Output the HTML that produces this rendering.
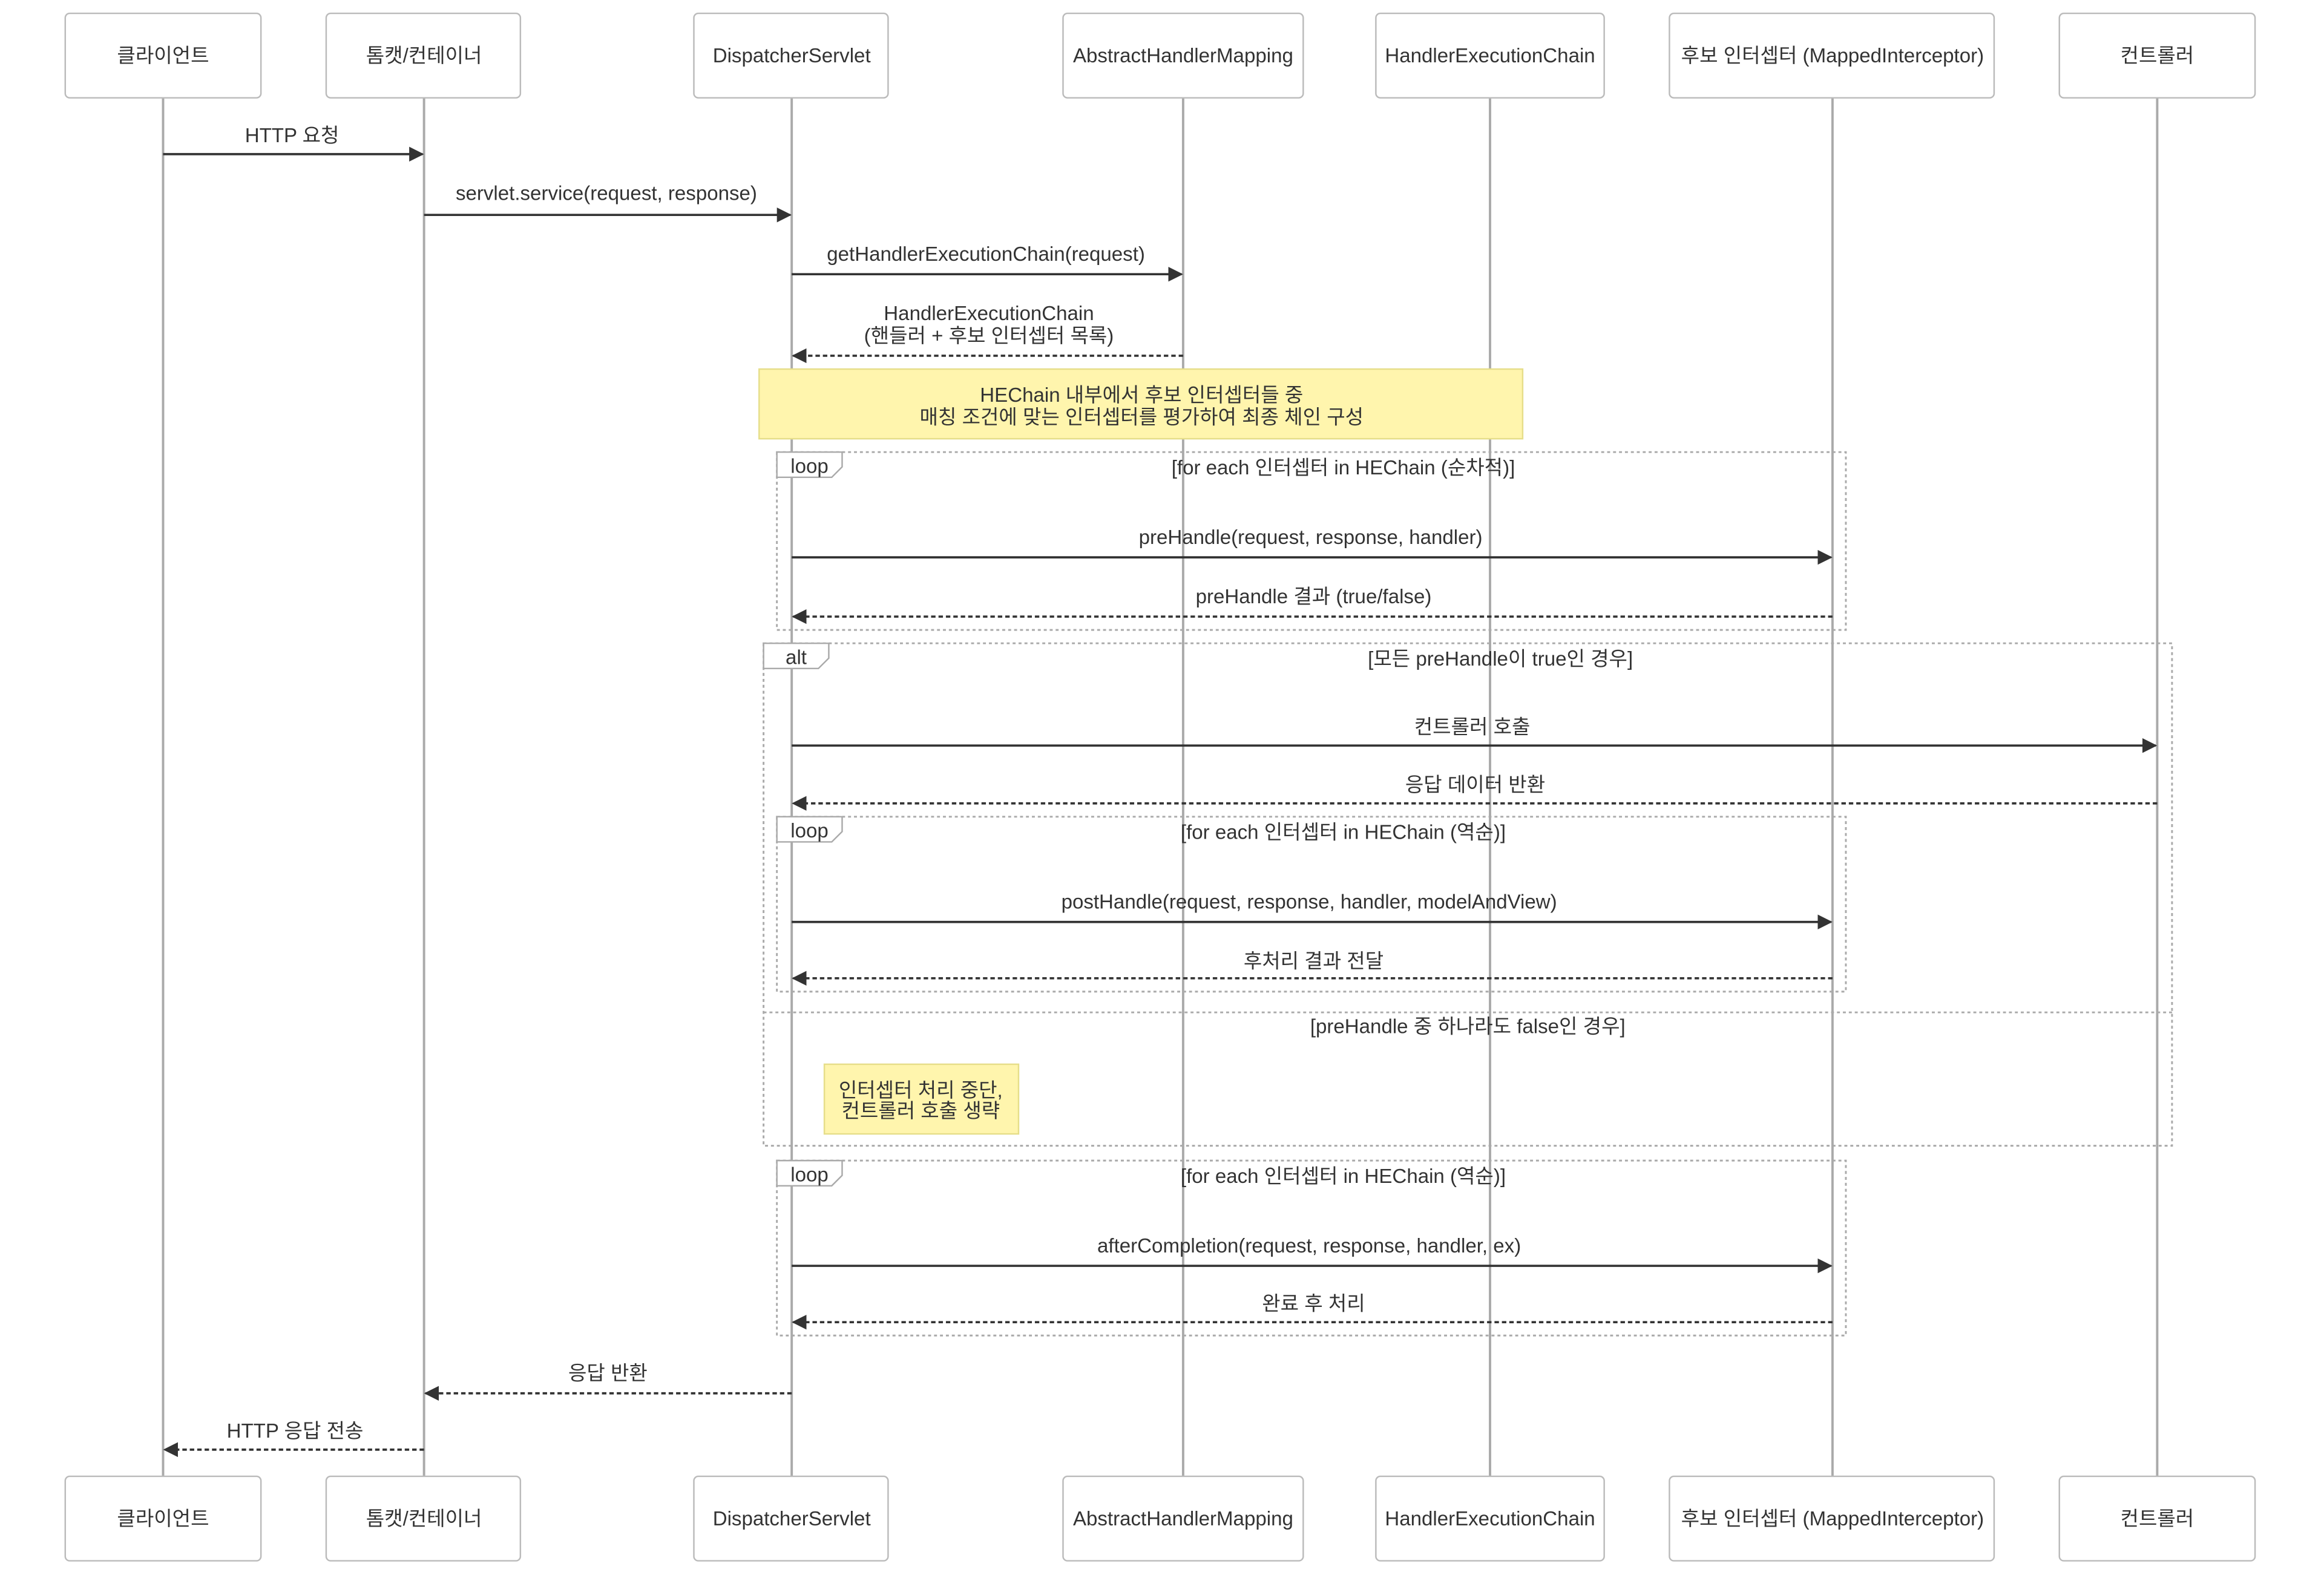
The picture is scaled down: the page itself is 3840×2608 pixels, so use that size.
<!DOCTYPE html>
<html><head><meta charset="utf-8"><style>
html,body{margin:0;padding:0;background:#fff;}
svg{display:block;}
text{font-family:"Liberation Sans","Noto Sans CJK KR",sans-serif;font-size:13.5px;fill:#333;text-anchor:middle;}
.box{fill:#fff;stroke:#bbb;stroke-width:1;}
.life{stroke:#aaa;stroke-width:1.6;}
.msg{stroke:#333;stroke-width:1.5;fill:none;}
.dash{stroke:#333;stroke-width:1.5;stroke-dasharray:3,2;fill:none;}
.frame{fill:none;stroke:#aaa;stroke-width:1.2;stroke-dasharray:2,2;}
.tab{fill:#fff;stroke:#aaa;stroke-width:1;}
.note{fill:#fff5ad;stroke:#e6de8a;stroke-width:1;}
</style></head><body>
<svg width="3840" height="2608" viewBox="0 0 1567.5 1064.6" preserveAspectRatio="none" xmlns="http://www.w3.org/2000/svg">
<defs>
<marker id="ah" markerWidth="10" markerHeight="10" refX="9" refY="5" orient="auto" markerUnits="userSpaceOnUse"><path d="M0,0 L10,5 L0,10 z" fill="#333"/></marker>
</defs>
<line class="life" x1="110" y1="66" x2="110" y2="996"/>
<line class="life" x1="286" y1="66" x2="286" y2="996"/>
<line class="life" x1="534" y1="66" x2="534" y2="996"/>
<line class="life" x1="798" y1="66" x2="798" y2="996"/>
<line class="life" x1="1005" y1="66" x2="1005" y2="996"/>
<line class="life" x1="1236" y1="66" x2="1236" y2="996"/>
<line class="life" x1="1455" y1="66" x2="1455" y2="996"/>

<g>
<rect class="box" x="44" y="9" width="132" height="57" rx="3"/><text x="110" y="42">클라이언트</text>
<rect class="box" x="220" y="9" width="131" height="57" rx="3"/><text x="286" y="42">톰캣/컨테이너</text>
<rect class="box" x="468" y="9" width="131" height="57" rx="3"/><text x="534" y="42">DispatcherServlet</text>
<rect class="box" x="717" y="9" width="162" height="57" rx="3"/><text x="798" y="42">AbstractHandlerMapping</text>
<rect class="box" x="928" y="9" width="154" height="57" rx="3"/><text x="1005" y="42">HandlerExecutionChain</text>
<rect class="box" x="1126" y="9" width="219" height="57" rx="3"/><text x="1236" y="42">후보 인터셉터 (MappedInterceptor)</text>
<rect class="box" x="1389" y="9" width="132" height="57" rx="3"/><text x="1455" y="42">컨트롤러</text>
</g>
<g>
<rect class="box" x="44" y="996" width="132" height="57" rx="3"/><text x="110" y="1029">클라이언트</text>
<rect class="box" x="220" y="996" width="131" height="57" rx="3"/><text x="286" y="1029">톰캣/컨테이너</text>
<rect class="box" x="468" y="996" width="131" height="57" rx="3"/><text x="534" y="1029">DispatcherServlet</text>
<rect class="box" x="717" y="996" width="162" height="57" rx="3"/><text x="798" y="1029">AbstractHandlerMapping</text>
<rect class="box" x="928" y="996" width="154" height="57" rx="3"/><text x="1005" y="1029">HandlerExecutionChain</text>
<rect class="box" x="1126" y="996" width="219" height="57" rx="3"/><text x="1236" y="1029">후보 인터셉터 (MappedInterceptor)</text>
<rect class="box" x="1389" y="996" width="132" height="57" rx="3"/><text x="1455" y="1029">컨트롤러</text>
</g>

<text x="197" y="96">HTTP 요청</text>
<line class="msg" x1="110" y1="104" x2="285" y2="104" marker-end="url(#ah)"/>
<text x="409" y="135">servlet.service(request, response)</text>
<line class="msg" x1="286" y1="145" x2="533" y2="145" marker-end="url(#ah)"/>
<text x="665" y="176">getHandlerExecutionChain(request)</text>
<line class="msg" x1="534" y1="185" x2="797" y2="185" marker-end="url(#ah)"/>
<text x="667" y="216">HandlerExecutionChain</text>
<text x="667" y="231">(핸들러 + 후보 인터셉터 목록)</text>
<line class="dash" x1="798" y1="240" x2="535" y2="240" marker-end="url(#ah)"/>

<rect class="note" x="512" y="249" width="515" height="47"/>
<text x="770" y="271">HEChain 내부에서 후보 인터셉터들 중</text>
<text x="770" y="286">매칭 조건에 맞는 인터셉터를 평가하여 최종 체인 구성</text>

<rect class="frame" x="524" y="305" width="721" height="120"/>
<path class="tab" d="M524,305 H568 V315 L561,322 H524 Z"/>
<text x="546" y="319">loop</text>
<text x="906" y="320">[for each 인터셉터 in HEChain (순차적)]</text>
<text x="884" y="367">preHandle(request, response, handler)</text>
<line class="msg" x1="534" y1="376" x2="1235" y2="376" marker-end="url(#ah)"/>
<text x="886" y="407">preHandle 결과 (true/false)</text>
<line class="dash" x1="1236" y1="416" x2="535" y2="416" marker-end="url(#ah)"/>

<rect class="frame" x="515" y="434" width="950" height="339"/>
<path class="tab" d="M515,434 H559 V444 L552,451 H515 Z"/>
<text x="537" y="448">alt</text>
<text x="1012" y="449">[모든 preHandle이 true인 경우]</text>
<text x="993" y="495">컨트롤러 호출</text>
<line class="msg" x1="534" y1="503" x2="1454" y2="503" marker-end="url(#ah)"/>
<text x="995" y="534">응답 데이터 반환</text>
<line class="dash" x1="1455" y1="542" x2="535" y2="542" marker-end="url(#ah)"/>

<rect class="frame" x="524" y="551" width="721" height="118"/>
<path class="tab" d="M524,551 H568 V561 L561,568 H524 Z"/>
<text x="546" y="565">loop</text>
<text x="906" y="566">[for each 인터셉터 in HEChain (역순)]</text>
<text x="883" y="613">postHandle(request, response, handler, modelAndView)</text>
<line class="msg" x1="534" y1="622" x2="1235" y2="622" marker-end="url(#ah)"/>
<text x="886" y="653">후처리 결과 전달</text>
<line class="dash" x1="1236" y1="660" x2="535" y2="660" marker-end="url(#ah)"/>

<line class="frame" x1="515" y1="683" x2="1465" y2="683"/>
<text x="990" y="697">[preHandle 중 하나라도 false인 경우]</text>
<rect class="note" x="556" y="718" width="131" height="47"/>
<text x="621" y="740">인터셉터 처리 중단,</text>
<text x="621" y="754">컨트롤러 호출 생략</text>

<rect class="frame" x="524" y="783" width="721" height="118"/>
<path class="tab" d="M524,783 H568 V793 L561,800 H524 Z"/>
<text x="546" y="797">loop</text>
<text x="906" y="798">[for each 인터셉터 in HEChain (역순)]</text>
<text x="883" y="845">afterCompletion(request, response, handler, ex)</text>
<line class="msg" x1="534" y1="854" x2="1235" y2="854" marker-end="url(#ah)"/>
<text x="886" y="884">완료 후 처리</text>
<line class="dash" x1="1236" y1="892" x2="535" y2="892" marker-end="url(#ah)"/>

<text x="410" y="931">응답 반환</text>
<line class="dash" x1="534" y1="940" x2="287" y2="940" marker-end="url(#ah)"/>
<text x="199" y="970">HTTP 응답 전송</text>
<line class="dash" x1="286" y1="978" x2="111" y2="978" marker-end="url(#ah)"/>
</svg>
</body></html>
